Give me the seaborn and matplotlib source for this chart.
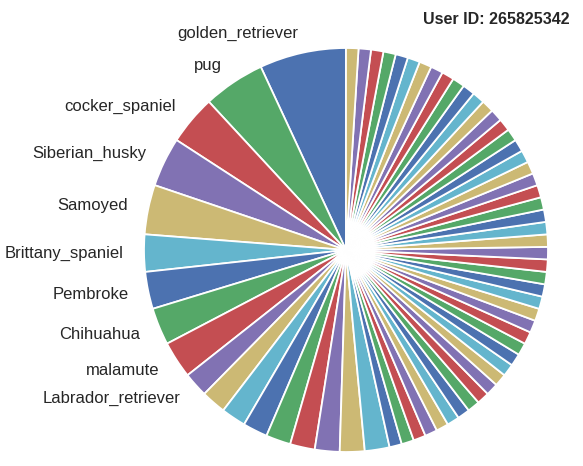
import matplotlib
matplotlib.use("Agg")
import matplotlib.pyplot as plt
import seaborn as sns

# breed counts, sorted descending
top_breeds = ["golden_retriever", "pug", "cocker_spaniel", "Siberian_husky", "Samoyed",
              "Brittany_spaniel", "Pembroke", "Chihuahua", "malamute", "Labrador_retriever"]
top_counts = [7, 5, 4, 4, 4, 3, 3, 3, 3, 2]
mid_counts = [2, 2, 2, 2, 2, 2, 2, 2]
tail_counts = [1] * 47
user_id = "265825342"

counts = top_counts + mid_counts + tail_counts
labels = top_breeds + [""] * (len(counts) - len(top_breeds))

sns.set_theme(style="white")
plt.rcParams["font.family"] = ["Liberation Sans", "DejaVu Sans"]
colors = sns.color_palette("deep6")

fig = plt.figure(figsize=(5.83, 4.66), dpi=100)
ax = fig.add_axes([0, 0, 1, 1])
ax.pie(counts, labels=labels, colors=colors, startangle=90, counterclock=True,
       labeldistance=1.1, wedgeprops=dict(edgecolor="white", linewidth=1.3),
       textprops=dict(fontsize=12, color=".15"))

# place the pie: centre at (346, 250) px, radius 202 px
r = 202.0
ax.set_xlim(-346 / r, (583 - 346) / r)
ax.set_ylim(-(466 - 250) / r, 250 / r)
ax.set_aspect("auto")
ax.axis("off")

fig.text(570 / 583, 1 - 20 / 466, "User ID: " + user_id, ha="right", va="center",
         fontsize=11.5, fontweight="bold", color=".15")

fig.savefig("out.png", dpi=100)
